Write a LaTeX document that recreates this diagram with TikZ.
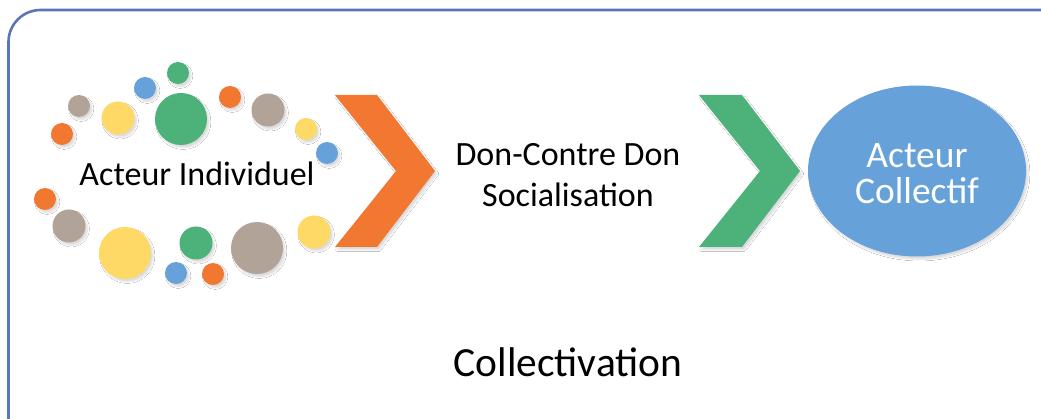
\documentclass[tikz,border=0pt]{standalone}
\usepackage{fontspec}
\setmainfont{Carlito}
\usetikzlibrary{shapes.geometric,shadows.blur}

\definecolor{frameblue}{HTML}{5B76B6}
\definecolor{dotorange}{HTML}{F27731}
\definecolor{dotgreen}{HTML}{4DB17A}
\definecolor{dotyellow}{HTML}{FED966}
\definecolor{dotbrown}{HTML}{B2A398}
\definecolor{dotblue}{HTML}{66A1DA}
\definecolor{collblue}{HTML}{66A1DA}

\begin{document}
\begin{tikzpicture}[x=1pt,y=-1pt,
  softshadow/.style={blur shadow={shadow xshift=2.2pt, shadow yshift=-2.8pt,
      shadow opacity=14, shadow blur steps=6, shadow blur radius=1.6pt}},
  dot/.style={circle, draw=none, inner sep=0pt, fill=#1, softshadow},
  sm/.style={minimum size=22pt},
  md/.style={minimum size=33pt},
  lg/.style={minimum size=52pt},
  label34/.style={inner sep=0pt, anchor=base, font=\fontsize{34}{40}\selectfont},
  collabel/.style={inner sep=0pt, anchor=base, text=white, font=\fontsize{37.5}{42}\selectfont},
  chevron/.style={draw=none, softshadow}]

\useasboundingbox (0,0) rectangle (1041,419);
\clip (0,0) rectangle (1041,419);
\fill[white] (0,0) rectangle (1041,419);

% frame
\draw[frameblue, line width=2.6pt, rounded corners=32pt] (8.5,10) rectangle (1080,460);

% ring of dots around the individual actor
\node[dot=dotgreen,  sm] (d1)  at (178,73)  {};
\node[dot=dotblue,   sm] (d2)  at (145,88)  {};
\node[dot=dotbrown,  sm] (d3)  at (79,106)  {};
\node[dot=dotyellow, md] (d4)  at (118,118) {};
\node[dot=dotgreen,  lg] (d5)  at (181,119) {};
\node[dot=dotorange, sm] (d6)  at (230,97)  {};
\node[dot=dotbrown,  md] (d7)  at (268,110) {};
\node[dot=dotyellow, sm] (d8)  at (306,129) {};
\node[dot=dotblue,   sm] (d9)  at (327,153) {};
\node[dot=dotorange, sm] (d10) at (62,134)  {};
\node[dot=dotorange, sm] (d11) at (45,199)  {};
\node[dot=dotbrown,  md] (d12) at (69,226)  {};
\node[dot=dotyellow, lg] (d13) at (125,253) {};
\node[dot=dotgreen,  md] (d14) at (196,243) {};
\node[dot=dotblue,   sm] (d15) at (176,273) {};
\node[dot=dotorange, sm] (d16) at (213,274) {};
\node[dot=dotbrown,  lg] (d17) at (257,248) {};
\node[dot=dotyellow, md] (d18) at (314,232) {};

\node[label34] (indiv) at (197,186) {Acteur Individuel};

% chevrons
\fill[dotorange, chevron] (335,95) -- (377,95) -- (435,171) -- (377,247) -- (335,247) -- (396,171) -- cycle;
\fill[dotgreen, chevron]  (699,95) -- (742,95) -- (800,171) -- (742,247) -- (699,247) -- (760,171) -- cycle;

% exchange labels
\node[label34] (don) at (568,166) {Don-Contre Don};
\node[label34] (soc) at (568,207) {Socialisation};

% collective actor
\node[ellipse, fill=collblue, draw=none, minimum width=218pt, minimum height=171pt, softshadow] (coll) at (917,171) {};
\node[collabel] (collA) at (917,168) {Acteur};
\node[collabel] (collB) at (917,204) {Collectif};

% title
\node[inner sep=0pt, anchor=base, font=\fontsize{41.5}{48}\selectfont] (title) at (568,377) {Collectivation};
\end{tikzpicture}
\end{document}
